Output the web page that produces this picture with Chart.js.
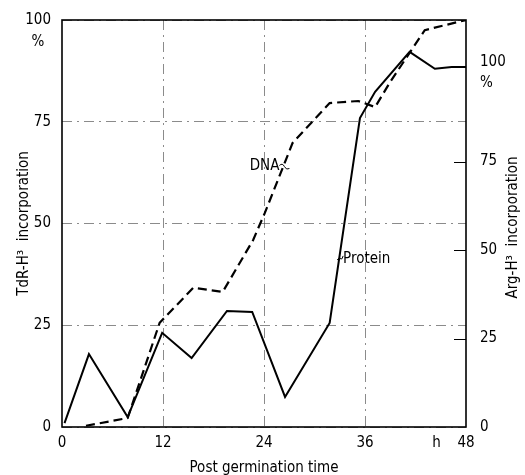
<!DOCTYPE html>
<html>
<head>
<meta charset="utf-8">
<script src="https://cdn.jsdelivr.net/npm/chart.js@4/dist/chart.umd.min.js"></script>
<style>
  body { margin: 0; background: #fff; }
  #wrap { width: 525px; height: 475px; }
</style>
</head>
<body>
<div id="wrap"><canvas id="chart" width="525" height="475"></canvas></div>
<script>
// data
const xTickValues = [0, 12, 24, 36, 44.5, 48];
const xTickLabels = ['0', '12', '24', '36', 'h', '48'];

// DNA (TdR-H3, left axis), dashed
const dnaHours = [2.85, 7.8, 11.6, 15.6, 19.1, 22.7, 24.1, 27.4, 31.8, 35.2, 37.2, 39.0, 43.1, 48];
const dnaValues = [0.3, 2.2, 25.6, 34.2, 33.2, 45.9, 52.6, 69.8, 79.6, 80.1, 78.6, 84.8, 97.5, 100];

// Protein (Arg-H3, right axis), solid
const proteinHours = [0.3, 3.2, 7.8, 11.9, 15.4, 19.6, 22.6, 26.5, 31.8, 35.4, 37.2, 41.3, 44.3, 46.3, 48];
const proteinValues = [1.1, 20.6, 2.8, 26.6, 19.5, 32.8, 32.5, 8.5, 29.4, 87.3, 94.7, 106, 101.2, 101.7, 101.7];

const FONT = "'DejaVu Sans Condensed', 'Liberation Sans Narrow', sans-serif";
const FSIZE = 15;
const gridColor = 'rgba(70,70,70,0.7)';

function toPoints(xs, ys) {
    return xs.map((x, i) => ({ x: x, y: ys[i] }));
}

// no extra room for labels: the layout below fixes the plot box
function noPad(scale) {
    scale.paddingTop = 0;
    scale.paddingBottom = 0;
    scale.paddingLeft = 0;
    scale.paddingRight = 0;
}

// frame, inner ticks on right axis, right title, "%" and the line labels
const extras = {
    id: 'extras',
    afterDraw(chart) {
        const ctx = chart.ctx;
        const a = chart.chartArea;
        const x = chart.scales.x;
        const yL = chart.scales.yL;
        const yR = chart.scales.yR;
        ctx.save();
        ctx.strokeStyle = '#000';
        ctx.lineWidth = 1.6;
        ctx.strokeRect(a.left, a.top, a.right - a.left, a.bottom - a.top);

        // short ticks pointing inward on the right axis
        ctx.lineWidth = 1;
        [25, 50, 75].forEach(v => {
            const py = Math.round(yR.getPixelForValue(v)) + 0.5;
            ctx.beginPath();
            ctx.moveTo(a.right - 12, py);
            ctx.lineTo(a.right, py);
            ctx.stroke();
        });

        ctx.fillStyle = '#000';
        ctx.font = FSIZE + 'px ' + FONT;

        // "%" under the top left label
        ctx.textAlign = 'center';
        ctx.textBaseline = 'middle';
        ctx.fillText('%', 38, yL.getPixelForValue(100) + 22);

        // right axis title, reading bottom to top
        ctx.save();
        ctx.translate(513, (a.top + a.bottom) / 2 + 4);
        ctx.rotate(-Math.PI / 2);
        ctx.fillText('Arg-H\u00B3  incorporation', 0, 0);
        ctx.restore();

        // DNA label with its leader
        ctx.textAlign = 'left';
        let px = x.getPixelForValue(22.3);
        let py = yL.getPixelForValue(64);
        ctx.fillText('DNA', px, py);
        let w = ctx.measureText('DNA').width;
        ctx.lineWidth = 1;
        ctx.beginPath();
        ctx.moveTo(px + w, py - 1);
        ctx.quadraticCurveTo(px + w + 3, py - 4, px + w + 5, py);
        ctx.quadraticCurveTo(px + w + 7, py + 4, px + w + 10, py + 2);
        ctx.stroke();

        // Protein label with its leader
        px = x.getPixelForValue(33.4);
        py = yR.getPixelForValue(47.5);
        ctx.fillText('Protein', px, py);
        ctx.beginPath();
        ctx.moveTo(px - 6, py + 1);
        ctx.quadraticCurveTo(px - 4, py - 2, px - 2, py);
        ctx.quadraticCurveTo(px - 1, py + 1, px, py - 3);
        ctx.stroke();
        ctx.restore();
    }
};

const ctx = document.getElementById('chart').getContext('2d');
const myChart = new Chart(ctx, {
    type: 'line',
    data: {
        datasets: [
            {
                label: 'DNA',
                data: toPoints(dnaHours, dnaValues),
                yAxisID: 'yL',
                borderColor: '#000',
                borderWidth: 2.2,
                borderDash: [9, 5],
                pointRadius: 0,
                tension: 0,
                fill: false
            },
            {
                label: 'Protein',
                data: toPoints(proteinHours, proteinValues),
                yAxisID: 'yR',
                borderColor: '#000',
                borderWidth: 2,
                pointRadius: 0,
                tension: 0,
                fill: false
            }
        ]
    },
    options: {
        responsive: false,
        animation: false,
        devicePixelRatio: 1,
        layout: { padding: { top: 20, left: 0, right: 0, bottom: 0 } },
        plugins: {
            legend: { display: false },
            tooltip: { enabled: false }
        },
        scales: {
            x: {
                type: 'linear',
                min: 0,
                max: 48,
                afterBuildTicks: (scale) => {
                    scale.ticks = xTickValues.map(v => ({ value: v }));
                },
                afterFit: (scale) => { scale.height = 48; noPad(scale); },
                ticks: {
                    autoSkip: false,
                    maxRotation: 0,
                    padding: 7,
                    color: '#000',
                    font: { family: FONT, size: FSIZE },
                    callback: (value, index) => xTickLabels[index]
                },
                grid: {
                    drawTicks: false,
                    color: (c) => [12, 24, 36].includes(c.tick && c.tick.value) ? gridColor : 'rgba(0,0,0,0)',
                    lineWidth: 0.9
                },
                border: { display: false, dash: [10, 5, 2, 5] },
                title: {
                    display: true,
                    text: 'Post germination time',
                    color: '#000',
                    font: { family: FONT, size: FSIZE },
                    padding: { top: 0, bottom: -2 }
                }
            },
            yL: {
                position: 'left',
                min: 0,
                max: 100,
                afterFit: (scale) => { scale.width = 62; noPad(scale); },
                ticks: {
                    stepSize: 25,
                    padding: 11,
                    color: '#000',
                    font: { family: FONT, size: FSIZE }
                },
                grid: {
                    drawTicks: false,
                    color: gridColor,
                    lineWidth: 0.9
                },
                border: { display: false, dash: [10, 5, 2, 5] },
                title: {
                    display: true,
                    text: 'TdR-H\u00B3  incorporation',
                    color: '#000',
                    font: { family: FONT, size: FSIZE },
                    padding: { top: 15, bottom: 0 }
                }
            },
            yR: {
                position: 'right',
                min: 0,
                max: 115,
                afterFit: (scale) => { scale.width = 59; noPad(scale); },
                ticks: {
                    stepSize: 25,
                    includeBounds: false,
                    padding: 14,
                    color: '#000',
                    font: { family: FONT, size: FSIZE, lineHeight: 1.4 },
                    callback: (v) => v === 100 ? ['100', '%'] : String(v)
                },
                grid: { drawOnChartArea: false, drawTicks: false },
                border: { display: false }
            }
        }
    },
    plugins: [extras]
});
</script>
</body>
</html>
